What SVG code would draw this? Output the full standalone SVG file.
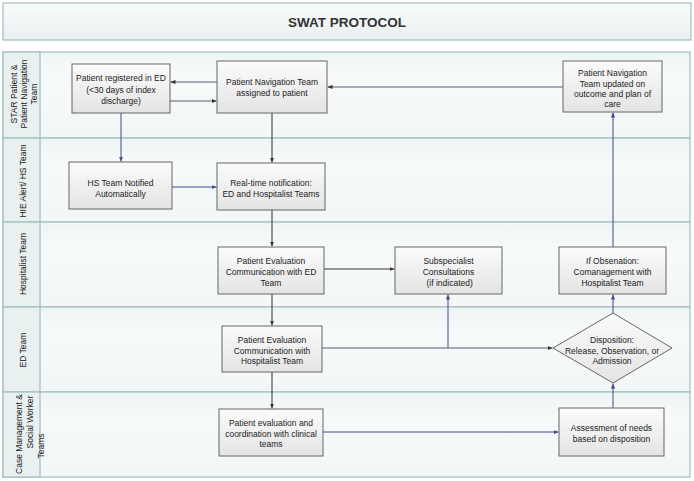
<svg xmlns="http://www.w3.org/2000/svg" width="694" height="481" viewBox="0 0 694 481">
<defs>
<linearGradient id="gTitle" x1="0" y1="0" x2="0" y2="1"><stop offset="0" stop-color="#fbfcfc"/><stop offset="1" stop-color="#e9efef"/></linearGradient>
<linearGradient id="gLane" x1="0" y1="0" x2="0" y2="1"><stop offset="0" stop-color="#eef4f4"/><stop offset="0.3" stop-color="#f7fafa"/><stop offset="1" stop-color="#f2f6f6"/></linearGradient>
<linearGradient id="gBox" x1="0" y1="0" x2="0" y2="1"><stop offset="0" stop-color="#fbfbfb"/><stop offset="1" stop-color="#e4e4e4"/></linearGradient>
<marker id="aDark" viewBox="0 0 6 6" refX="6" refY="3" markerWidth="5" markerHeight="5" orient="auto"><path d="M0,0.5 L6,3 L0,5.5 z" fill="#333"/></marker>
<marker id="aBlue" viewBox="0 0 6 6" refX="6" refY="3" markerWidth="5" markerHeight="5" orient="auto"><path d="M0,0.5 L6,3 L0,5.5 z" fill="#3c4c8c"/></marker>
</defs>
<style>
.lane{fill:url(#gLane);stroke:#9fbfbd;stroke-width:1.2}
.lbl{fill:#e9f0f0;stroke:#9fbfbd;stroke-width:1.2}
.box{fill:url(#gBox);stroke:#666;stroke-width:1}
.sh{fill:#cfd6d6}
.t{font-family:"Liberation Sans",Arial,sans-serif;font-size:8.5px;fill:#222;text-anchor:middle}
.lt{font-family:"Liberation Sans",Arial,sans-serif;font-size:8.5px;fill:#222;text-anchor:middle}
.dk{stroke:#333;stroke-width:1;fill:none;marker-end:url(#aDark)}
.bl{stroke:#3c4c8c;stroke-width:1;fill:none;marker-end:url(#aBlue)}
.gy{stroke:#555e70;stroke-width:1;fill:none;marker-end:url(#aDark)}
</style>

<g id="title">
<rect x="3" y="3" width="688" height="37" fill="url(#gTitle)" stroke="#9fbfbd" stroke-width="1.2"/>
<text x="347" y="27" font-family="Liberation Sans,Arial,sans-serif" font-size="13.5" font-weight="bold" fill="#333" text-anchor="middle">SWAT PROTOCOL</text>
</g>

<g id="lanes">
<rect class="lane" x="3" y="52" width="687" height="86"/>
<rect class="lane" x="3" y="138" width="687" height="84"/>
<rect class="lane" x="3" y="222" width="687" height="85"/>
<rect class="lane" x="3" y="307" width="687" height="85"/>
<rect class="lane" x="3" y="392" width="687" height="85"/>
<rect class="lbl" x="3" y="52" width="37" height="86"/>
<rect class="lbl" x="3" y="138" width="37" height="84"/>
<rect class="lbl" x="3" y="222" width="37" height="85"/>
<rect class="lbl" x="3" y="307" width="37" height="85"/>
<rect class="lbl" x="3" y="392" width="37" height="85"/>
<text class="lt" transform="translate(0,94) rotate(-90)"><tspan x="0" y="16.5">STAR Patient &amp;</tspan><tspan x="0" y="26.5">Patient Navigation</tspan><tspan x="0" y="36.5">Team</tspan></text>
<text class="lt" transform="translate(0,181) rotate(-90)"><tspan x="0" y="26">HIE Alert/ HS Team</tspan></text>
<text class="lt" transform="translate(0,264) rotate(-90)"><tspan x="0" y="26">Hospitalist Team</tspan></text>
<text class="lt" transform="translate(0,350) rotate(-90)"><tspan x="0" y="26">ED Team</tspan></text>
<text class="lt" transform="translate(0,434) rotate(-90)"><tspan x="0" y="22">Case Management &amp;</tspan><tspan x="12" y="33">Social Worker</tspan><tspan x="-12" y="44">Teams</tspan></text>
</g>

<g id="connectors">
<line class="gy" x1="217" y1="82" x2="170.5" y2="82"/>
<line class="gy" x1="170" y1="101" x2="216.5" y2="101"/>
<line class="gy" x1="563" y1="87" x2="327.5" y2="87"/>
<line class="bl" x1="121" y1="113" x2="121" y2="161.5"/>
<line class="dk" x1="272" y1="113" x2="272" y2="162.5"/>
<line class="bl" x1="172" y1="187" x2="216.5" y2="187"/>
<line class="dk" x1="272" y1="210" x2="272" y2="246.5"/>
<line class="dk" x1="324" y1="269" x2="394.5" y2="269"/>
<line class="dk" x1="272" y1="294" x2="272" y2="325.5"/>
<line class="gy" x1="322" y1="348" x2="552.5" y2="348"/>
<polyline class="bl" points="448,348 448,294.5"/>
<line class="dk" x1="272" y1="372" x2="272" y2="408.5"/>
<line class="bl" x1="323" y1="432" x2="558.5" y2="432"/>
<line class="bl" x1="613" y1="408" x2="613" y2="383.5"/>
<line class="bl" x1="613" y1="313" x2="613" y2="294.5"/>
<line class="bl" x1="613" y1="247" x2="613" y2="112.5"/>
</g>

<g id="n1">
<rect class="box" x="72" y="64" width="98" height="49"/>
<text class="t"><tspan x="121" y="81">Patient registered in ED</tspan><tspan x="121" y="92.5">(&lt;30 days of index</tspan><tspan x="121" y="104">discharge)</tspan></text>
</g>
<g id="n2">
<rect class="box" x="217" y="61" width="110" height="52"/>
<text class="t"><tspan x="272" y="85">Patient Navigation Team</tspan><tspan x="272" y="96">assigned to patient</tspan></text>
</g>
<g id="n3">
<rect class="box" x="563" y="61" width="99" height="51"/>
<text class="t"><tspan x="612.5" y="76">Patient Navigation</tspan><tspan x="612.5" y="86.5">Team updated on</tspan><tspan x="612.5" y="97">outcome and plan of</tspan><tspan x="612.5" y="107">care</tspan></text>
</g>
<g id="n4">
<rect class="box" x="69" y="162" width="103" height="47"/>
<text class="t"><tspan x="120.5" y="186">HS Team Notified</tspan><tspan x="120.5" y="196.5">Automatically</tspan></text>
</g>
<g id="n5">
<rect class="box" x="217" y="163" width="108" height="47"/>
<text class="t"><tspan x="271" y="186">Real-time notification:</tspan><tspan x="271" y="197">ED and Hospitalist Teams</tspan></text>
</g>
<g id="n6">
<rect class="box" x="218" y="247" width="106" height="47"/>
<text class="t"><tspan x="271" y="264">Patient Evaluation</tspan><tspan x="271" y="275">Communication with ED</tspan><tspan x="271" y="285.5">Team</tspan></text>
</g>
<g id="n7">
<rect class="box" x="395" y="247" width="107" height="47"/>
<text class="t"><tspan x="448.5" y="264">Subspecialist</tspan><tspan x="448.5" y="275">Consultations</tspan><tspan x="448.5" y="285.5"> (if indicated)</tspan></text>
</g>
<g id="n8">
<rect class="box" x="559" y="247" width="107" height="47"/>
<text class="t"><tspan x="612.5" y="264">If Obsenation:</tspan><tspan x="612.5" y="275">Comanagement with</tspan><tspan x="612.5" y="285.5">Hospitalist Team</tspan></text>
</g>
<g id="n9">
<rect class="box" x="222" y="326" width="100" height="46"/>
<text class="t"><tspan x="272" y="343">Patient Evaluation</tspan><tspan x="272" y="353.5">Communication with</tspan><tspan x="272" y="364">Hospitalist Team</tspan></text>
</g>
<g id="n10">
<polygon class="box" points="613,313 672,348 613,383 553,348"/>
<text class="t"><tspan x="612" y="343">Disposition:</tspan><tspan x="612" y="353.5">Release, Observation, or</tspan><tspan x="612" y="364">Admission</tspan></text>
</g>
<g id="n11">
<rect class="box" x="219" y="409" width="104" height="47"/>
<text class="t"><tspan x="271" y="426">Patient evaluation and</tspan><tspan x="271" y="436.5">coordination with clinical</tspan><tspan x="271" y="447">teams</tspan></text>
</g>
<g id="n12">
<rect class="box" x="559" y="408" width="105" height="48"/>
<text class="t"><tspan x="611.5" y="431">Assessment of needs</tspan><tspan x="611.5" y="441.5">based on disposition</tspan></text>
</g>
</svg>
